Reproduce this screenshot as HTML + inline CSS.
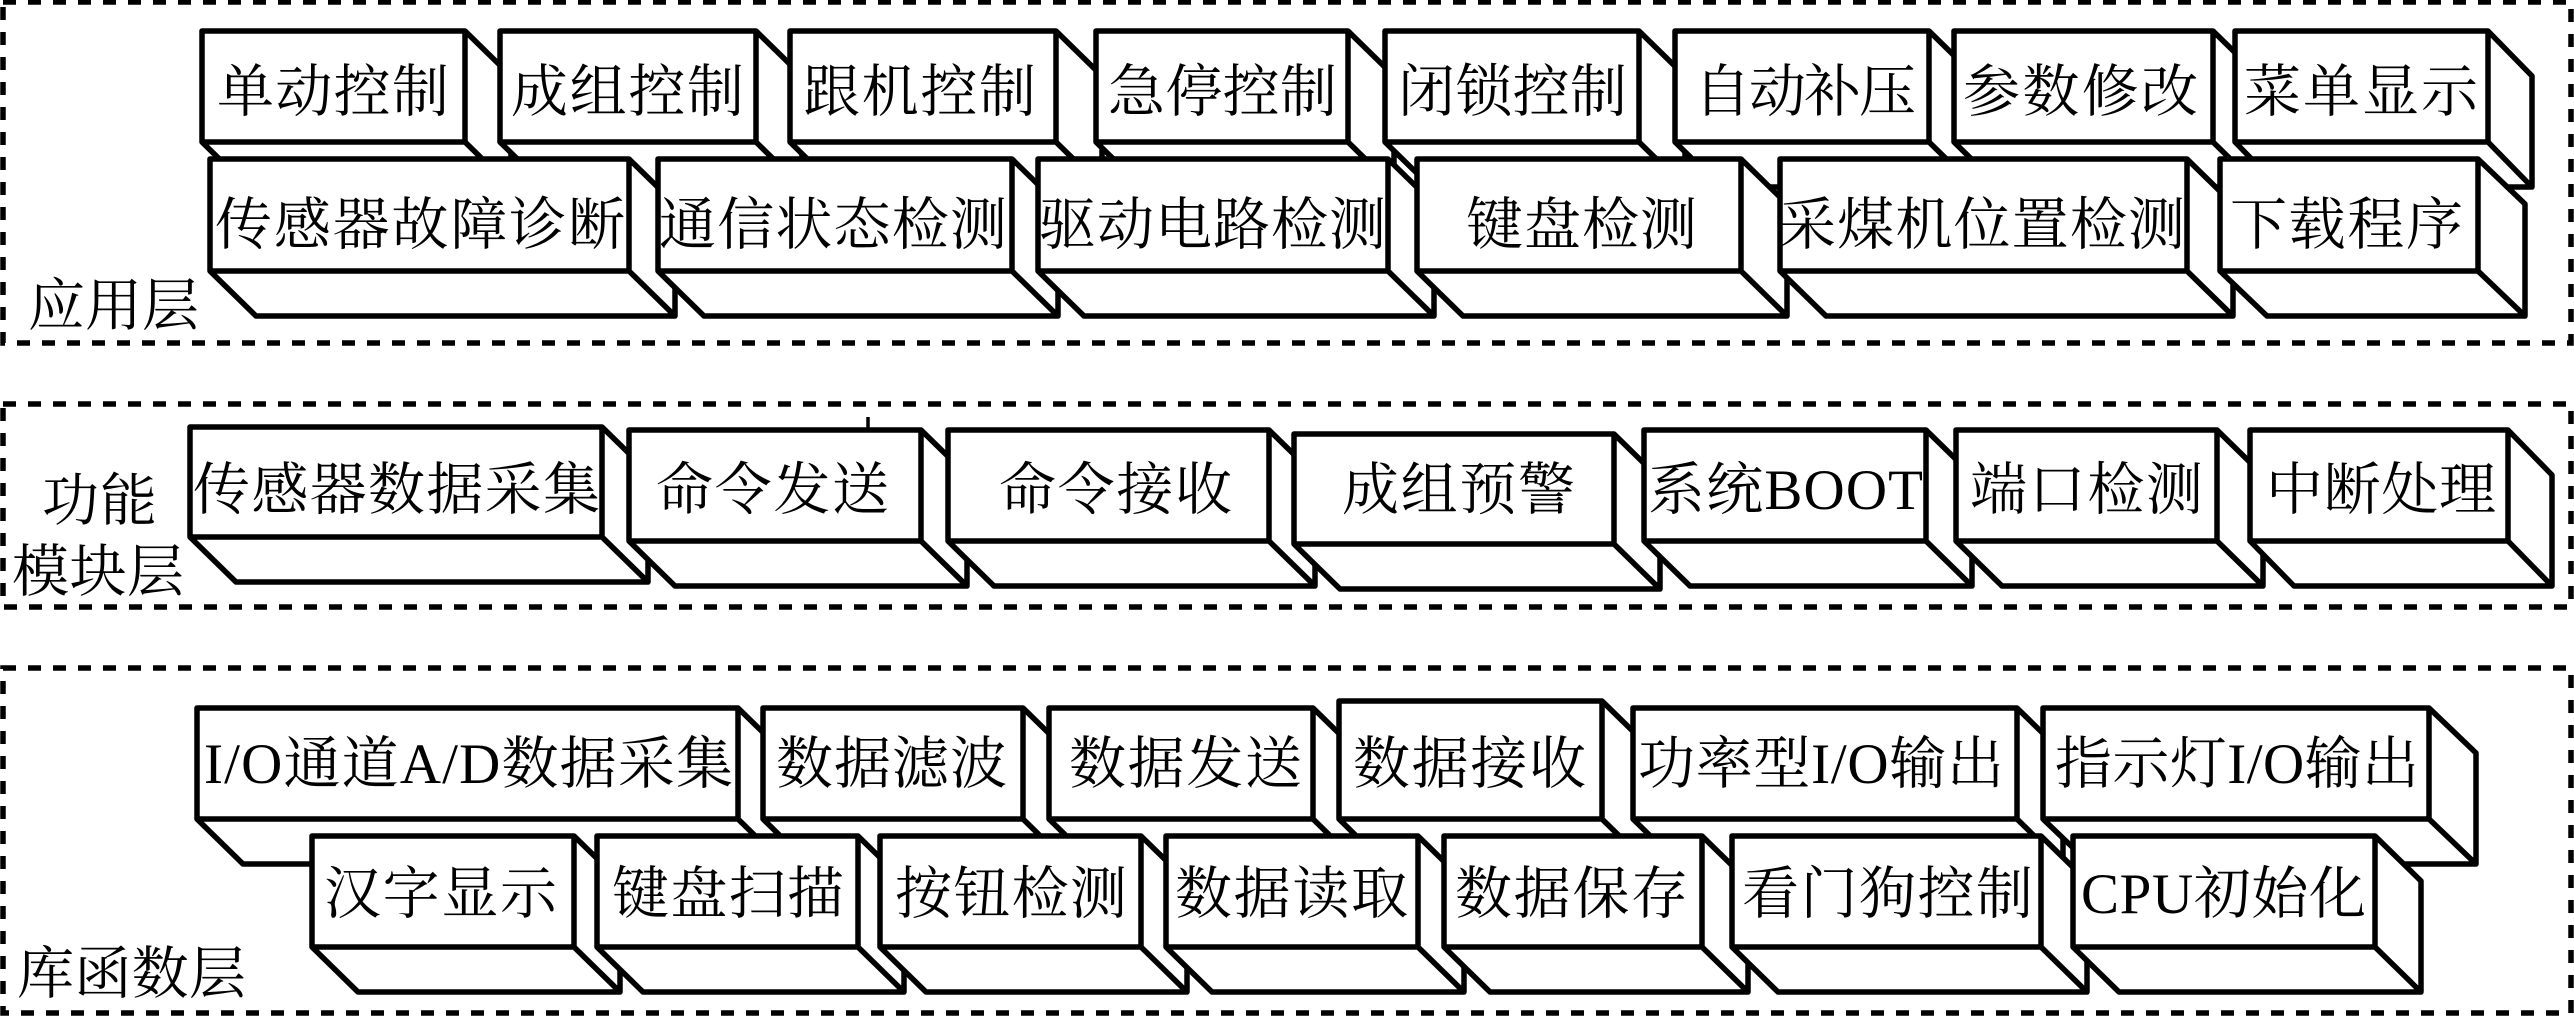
<!DOCTYPE html>
<html><head><meta charset="utf-8"><style>
html,body{margin:0;padding:0;background:#fff}
svg{display:block}
.f{fill:none;stroke:#000;stroke-width:5.5;stroke-dasharray:13 12}
.b path{fill:#fff;stroke:#000;stroke-width:5.5;stroke-linejoin:round}
text{font-family:"Liberation Serif","Noto Serif CJK SC",serif;font-size:57px;fill:#000}
</style></head><body>
<svg width="2574" height="1017" viewBox="0 0 2574 1017" xmlns="http://www.w3.org/2000/svg">
<rect width="2574" height="1017" fill="#fff"/>
<rect class="f" x="3" y="2" width="2568" height="341"/>
<rect class="f" x="3" y="404" width="2568" height="203"/>
<rect class="f" x="3" y="668" width="2568" height="345"/>
<line x1="868" y1="417" x2="868" y2="432" stroke="#000" stroke-width="3.5"/>
<g class="b">
<path d="M202 31h263l46 45v111h-263l-46 -45zh263v111h-263zm263 111l46 45"/>
<path d="M500 31h256l46 45v111h-256l-46 -45zh256v111h-256zm256 111l46 45"/>
<path d="M790 31h266l46 45v111h-266l-46 -45zh266v111h-266zm266 111l46 45"/>
<path d="M1096 31h252l46 45v111h-252l-46 -45zh252v111h-252zm252 111l46 45"/>
<path d="M1385 31h254l46 45v111h-254l-46 -45zh254v111h-254zm254 111l46 45"/>
<path d="M1675 31h254l46 45v111h-254l-46 -45zh254v111h-254zm254 111l46 45"/>
<path d="M1954 31h259l46 45v111h-259l-46 -45zh259v111h-259zm259 111l46 45"/>
<path d="M2235 31h253l44 45v111h-253l-44 -45zh253v111h-253zm253 111l44 45"/>
<path d="M210 159h419l46 45v112h-419l-46 -45zh419v112h-419zm419 112l46 45"/>
<path d="M658 159h354l46 45v112h-354l-46 -45zh354v112h-354zm354 112l46 45"/>
<path d="M1038 159h350l46 45v112h-350l-46 -45zh350v112h-350zm350 112l46 45"/>
<path d="M1417 159h324l46 45v112h-324l-46 -45zh324v112h-324zm324 112l46 45"/>
<path d="M1780 159h407l46 45v112h-407l-46 -45zh407v112h-407zm407 112l46 45"/>
<path d="M2220 159h258l47 45v112h-258l-47 -45zh258v112h-258zm258 112l47 45"/>
<path d="M190 427h412l46 45v110h-412l-46 -45zh412v110h-412zm412 110l46 45"/>
<path d="M629 430h292l46 45v111h-292l-46 -45zh292v111h-292zm292 111l46 45"/>
<path d="M948 430h321l46 45v111h-321l-46 -45zh321v111h-321zm321 111l46 45"/>
<path d="M1294 434h320l46 45v110h-320l-46 -45zh320v110h-320zm320 110l46 45"/>
<path d="M1644 430h282l46 45v111h-282l-46 -45zh282v111h-282zm282 111l46 45"/>
<path d="M1956 430h261l46 45v111h-261l-46 -45zh261v111h-261zm261 111l46 45"/>
<path d="M2250 430h258l44 45v111h-258l-44 -45zh258v111h-258zm258 111l44 45"/>
<path d="M197 708h541l46 45v111h-541l-46 -45zh541v111h-541zm541 111l46 45"/>
<path d="M763 708h260l46 45v111h-260l-46 -45zh260v111h-260zm260 111l46 45"/>
<path d="M1049 708h264l46 45v111h-264l-46 -45zh264v111h-264zm264 111l46 45"/>
<path d="M1339 701h263l46 45v118h-263l-46 -45zh263v118h-263zm263 118l46 45"/>
<path d="M1633 708h384l46 45v111h-384l-46 -45zh384v111h-384zm384 111l46 45"/>
<path d="M2043 708h386l47 45v111h-386l-47 -45zh386v111h-386zm386 111l47 45"/>
<path d="M312 836h262l46 45v111h-262l-46 -45zh262v111h-262zm262 111l46 45"/>
<path d="M597 836h261l46 45v111h-261l-46 -45zh261v111h-261zm261 111l46 45"/>
<path d="M880 836h261l46 45v111h-261l-46 -45zh261v111h-261zm261 111l46 45"/>
<path d="M1166 836h252l46 45v111h-252l-46 -45zh252v111h-252zm252 111l46 45"/>
<path d="M1444 836h258l46 45v111h-258l-46 -45zh258v111h-258zm258 111l46 45"/>
<path d="M1732 836h309l46 45v111h-309l-46 -45zh309v111h-309zm309 111l46 45"/>
<path d="M2073 836h302l46 45v111h-302l-46 -45zh302v111h-302zm302 111l46 45"/>
</g>
<g>
<text x="217" y="111" textLength="232">单动控制</text>
<text x="511" y="111" textLength="233">成组控制</text>
<text x="803" y="111" textLength="233">跟机控制</text>
<text x="1108" y="111" textLength="229">急停控制</text>
<text x="1398" y="111" textLength="229">闭锁控制</text>
<text x="1694" y="111" textLength="222">自动补压</text>
<text x="1963" y="111" textLength="235">参数修改</text>
<text x="2244" y="111" textLength="234">菜单显示</text>
<text x="215" y="244" textLength="410">传感器故障诊断</text>
<text x="659" y="244" textLength="348">通信状态检测</text>
<text x="1039" y="244" textLength="347">驱动电路检测</text>
<text x="1466" y="244" textLength="231">键盘检测</text>
<text x="1779" y="244" textLength="406">采煤机位置检测</text>
<text x="2230" y="244" textLength="233">下载程序</text>
<text x="28" y="325" textLength="171">应用层</text>
<text x="193" y="509" textLength="407">传感器数据采集</text>
<text x="656" y="509" textLength="233">命令发送</text>
<text x="999" y="509" textLength="233">命令接收</text>
<text x="1342" y="509" textLength="233">成组预警</text>
<text x="1648" y="509" textLength="275">系统BOOT</text>
<text x="1970" y="509" textLength="233">端口检测</text>
<text x="2266" y="509" textLength="230">中断处理</text>
<text x="42" y="520" textLength="115">功能</text>
<text x="12" y="591" textLength="172">模块层</text>
<text x="204" y="783" textLength="529">I/O通道A/D数据采集</text>
<text x="776" y="783" textLength="231">数据滤波</text>
<text x="1069" y="783" textLength="233">数据发送</text>
<text x="1353" y="783" textLength="233">数据接收</text>
<text x="1638" y="783" textLength="366">功率型I/O输出</text>
<text x="2055" y="783" textLength="364">指示灯I/O输出</text>
<text x="324" y="913" textLength="233">汉字显示</text>
<text x="612" y="913" textLength="232">键盘扫描</text>
<text x="895" y="913" textLength="232">按钮检测</text>
<text x="1175" y="913" textLength="233">数据读取</text>
<text x="1455" y="913" textLength="233">数据保存</text>
<text x="1742" y="913" textLength="291">看门狗控制</text>
<text x="2081" y="913" textLength="285">CPU初始化</text>
<text x="17" y="993" textLength="229">库函数层</text>
</g>
</svg>
</body></html>
